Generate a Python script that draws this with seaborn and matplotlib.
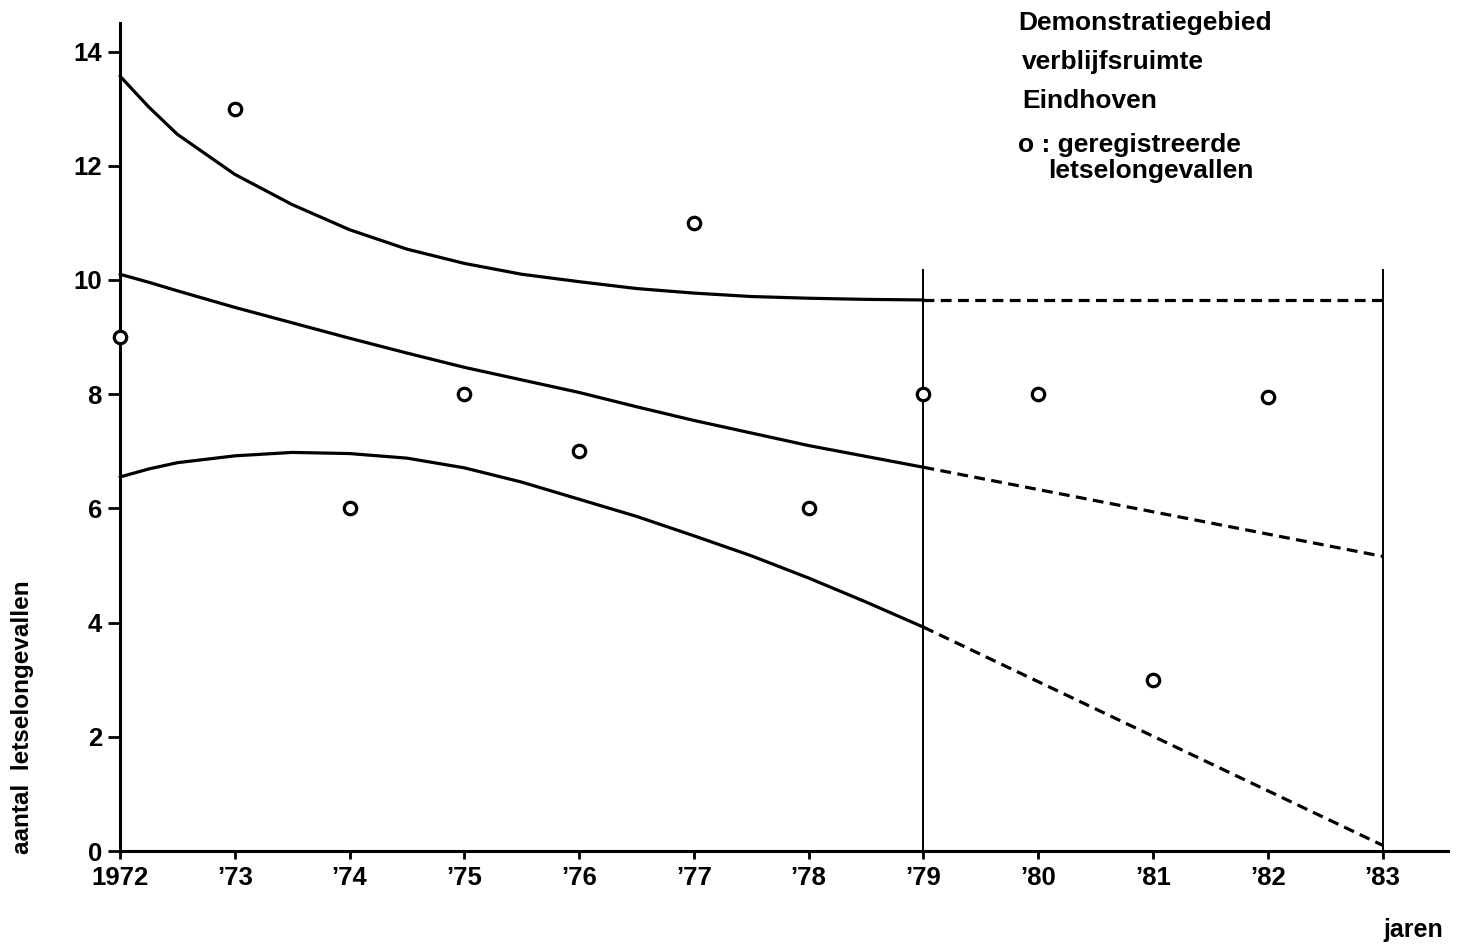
import numpy as np
import pandas as pd
import matplotlib
matplotlib.use("Agg")
import matplotlib.pyplot as plt
import seaborn as sns

# ---- data ----
obs_years = [1972, 1973, 1974, 1975, 1976, 1977, 1978, 1979, 1980, 1981, 1982]
obs_values = [9, 13, 6, 8, 7, 11, 6, 8, 8, 3, 7.95]

fit_years = [1972, 1972.25, 1972.5, 1973, 1973.5, 1974, 1974.5, 1975, 1975.5,
             1976, 1976.5, 1977, 1977.5, 1978, 1978.5, 1979]
upper_fit = [13.57, 13.03, 12.55, 11.85, 11.32, 10.88, 10.54, 10.29, 10.10,
             9.97, 9.85, 9.77, 9.71, 9.68, 9.66, 9.65]
mean_fit = [10.10, 9.96, 9.81, 9.52, 9.25, 8.98, 8.72, 8.47, 8.25,
            8.03, 7.78, 7.54, 7.32, 7.10, 6.91, 6.72]
lower_fit = [6.55, 6.69, 6.80, 6.92, 6.98, 6.96, 6.88, 6.71, 6.46,
             6.16, 5.86, 5.52, 5.17, 4.78, 4.36, 3.92]

proj_years = [1979, 1983]
upper_proj = [9.65, 9.65]
mean_proj = [6.72, 5.16]
lower_proj = [3.92, 0.10]

boundary_years = [1979, 1983]
boundary_top = 10.2

tick_years = list(range(1972, 1984))
tick_labels = ["1972", "’73", "’74", "’75", "’76", "’77", "’78", "’79", "’80", "’81", "’82", "’83"]
y_ticks = [0, 2, 4, 6, 8, 10, 12, 14]

legend_lines = ["Demonstratiegebied", "verblijfsruimte", "Eindhoven"]

# ---- style ----
sns.set_style("ticks")
plt.rcParams["font.family"] = ["Liberation Sans", "DejaVu Sans"]
plt.rcParams["font.weight"] = "bold"
for k in ["text.color", "axes.labelcolor", "xtick.color", "ytick.color", "axes.edgecolor"]:
    plt.rcParams[k] = "black"

W, H = 1461, 946
fig = plt.figure(figsize=(W / 100, H / 100), dpi=100)
ax = fig.add_axes([120 / W, 1 - 851 / H, (1448 - 120) / W, (851 - 23) / H])

LW = 2.3
fit_df = pd.DataFrame({"x": fit_years, "upper": upper_fit, "mean": mean_fit, "lower": lower_fit})
proj_df = pd.DataFrame({"x": proj_years, "upper": upper_proj, "mean": mean_proj, "lower": lower_proj})
for col in ["upper", "mean", "lower"]:
    sns.lineplot(data=fit_df, x="x", y=col, ax=ax, color="black", lw=LW, sort=False,
                 estimator=None, clip_on=False, solid_joinstyle="round")
    sns.lineplot(data=proj_df, x="x", y=col, ax=ax, color="black", lw=LW, sort=False,
                 estimator=None, linestyle=(0, (3.4, 2.0)), clip_on=False)

ax.vlines(boundary_years, 0, boundary_top, color="black", lw=1.4)

obs_df = pd.DataFrame({"x": obs_years, "y": obs_values})
sns.scatterplot(data=obs_df, x="x", y="y", ax=ax, marker="o", s=80, facecolor="white",
                edgecolor="black", linewidth=2.3, zorder=5, clip_on=False)

ax.set_xlim(1972, 1983.57)
ax.set_ylim(0, 14.5)
ax.set_xticks(tick_years)
ax.set_xticklabels(tick_labels)
ax.set_yticks(y_ticks)
ax.set_xlabel("")
ax.set_ylabel("")
for s in ["top", "right"]:
    ax.spines[s].set_visible(False)
for s in ["left", "bottom"]:
    ax.spines[s].set_linewidth(2.2)
    ax.spines[s].set_color("black")
ax.tick_params(axis="y", length=9, width=2, labelsize=18.5, pad=4, colors="black")
ax.tick_params(axis="x", length=6, width=2, labelsize=18.5, pad=5, colors="black")
for lab in ax.get_xticklabels() + ax.get_yticklabels():
    lab.set_fontweight("bold")

def fx(px):
    return px / W

def fy(py):
    return 1 - py / H

LS = 19
fig.text(fx(1018), fy(23), legend_lines[0], fontsize=LS, fontweight="bold", va="center", ha="left")
fig.text(fx(1022), fy(62), legend_lines[1], fontsize=LS, fontweight="bold", va="center", ha="left")
fig.text(fx(1022), fy(101), legend_lines[2], fontsize=LS, fontweight="bold", va="center", ha="left")
fig.text(fx(1018), fy(145), "o : geregistreerde", fontsize=LS, fontweight="bold", va="center", ha="left")
fig.text(fx(1048), fy(171), "letselongevallen", fontsize=LS, fontweight="bold", va="center", ha="left")

fig.text(fx(23), fy(717), "aantal  letselongevallen", fontsize=17.5, fontweight="bold",
         rotation=90, va="center", ha="center")
fig.text(fx(1443), fy(930), "jaren", fontsize=18, fontweight="bold", va="center", ha="right")

fig.savefig("out.png", dpi=100)
